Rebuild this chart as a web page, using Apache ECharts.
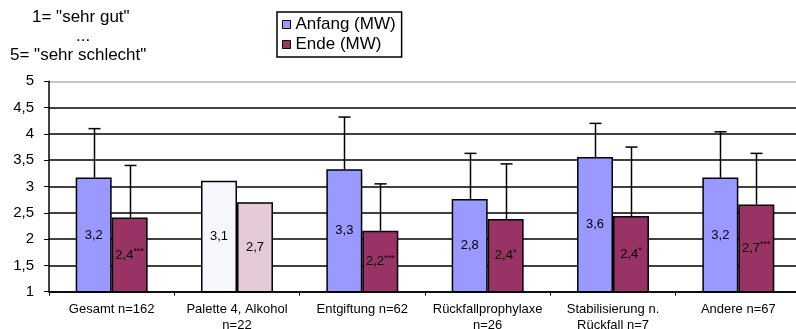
<!DOCTYPE html>
<html><head><meta charset="utf-8">
<script src="https://cdn.jsdelivr.net/npm/echarts@6/dist/echarts.min.js"></script>
<style>html,body{margin:0;padding:0;background:#fff}#c{width:796px;height:329px}</style>
</head><body><div id="c"></div>
<script>
const categories = ['Gesamt n=162', 'Palette 4, Alkohol\nn=22', 'Entgiftung n=62', 'Rückfallprophylaxe\nn=26', 'Stabilisierung n.\nRückfall n=7', 'Andere n=67'];
const anfang = [3.17, 3.11, 3.33, 2.76, 3.56, 3.17];
const ende = [2.41, 2.70, 2.16, 2.38, 2.44, 2.66];
const anfangSD = [0.93, null, 0.99, 0.87, 0.64, 0.87];
const endeSD = [0.99, null, 0.89, 1.05, 1.31, 0.97];
const endeSig = ['***', '', '***', '*', '*', '***'];
const fadedIndex = 1;
const yMin = 1, yMax = 5, yStep = 0.5;
const legendNames = ['Anfang (MW)', 'Ende (MW)'];
const scaleNote = ['1= "sehr gut"', '...', '5= "sehr schlecht"'];

const FONT = '"Liberation Sans", Arial, sans-serif';
const BAR_FRAC = 0.287;
const fmt = v => v.toFixed(1).replace('.', ',');

function errRenderer(sign) {
  return function (params, api) {
    const cat = api.value(0), mean = api.value(1), sd = api.value(2);
    if (sd == null || isNaN(sd)) return;
    const band = api.size([1, 0])[0];
    const off = sign * band * BAR_FRAC / 2;
    const p0 = api.coord([cat, mean]);
    const p1 = api.coord([cat, mean + sd]);
    const x = Math.round(p0[0] + off) + 0.5;
    const st = { stroke: '#000', lineWidth: 1.5 };
    return { type: 'group', children: [
      { type: 'line', shape: { x1: x, y1: p0[1], x2: x, y2: p1[1] }, style: st },
      { type: 'line', shape: { x1: x - 6, y1: p1[1], x2: x + 6, y2: p1[1] }, style: st }
    ]};
  };
}

const nLines = Math.round((yMax - yMin) / yStep) + 1;
const splitColors = [];
for (let i = 0; i < nLines; i++) splitColors.push(i === nLines - 1 ? '#b4b4b4' : '#000');

const chart = echarts.init(document.getElementById('c'), null, { renderer: 'canvas' });
chart.setOption({
  animation: false,
  backgroundColor: '#fff',
  textStyle: { fontFamily: FONT },
  graphic: [
    { type: 'text', left: 32, top: 9, style: { text: scaleNote[0], font: '17px ' + FONT, fill: '#000' } },
    { type: 'text', left: 76, top: 28, style: { text: scaleNote[1], font: '17px ' + FONT, fill: '#000' } },
    { type: 'text', left: 10, top: 47, style: { text: scaleNote[2], font: '17px ' + FONT, fill: '#000' } }
  ],
  legend: {
    data: legendNames,
    orient: 'vertical',
    left: 277, top: 12,
    padding: [3, 6, 3, 5],
    itemGap: 1,
    itemWidth: 8, itemHeight: 8,
    icon: 'rect',
    borderColor: '#000', borderWidth: 1.5,
    textStyle: { fontSize: 17, lineHeight: 19, color: '#000', fontFamily: FONT },
    itemStyle: { borderColor: '#000', borderWidth: 1 }
  },
  grid: { left: 49, top: 81.3, width: 752, bottom: 37.3, outerBoundsMode: 'none', containLabel: false },
  xAxis: {
    type: 'category',
    data: categories,
    axisLine: { lineStyle: { color: '#000', width: 1.5 } },
    axisTick: { show: true, length: 4, lineStyle: { color: '#000', width: 1 } },
    axisLabel: { color: '#000', fontSize: 13, lineHeight: 16, margin: 10, interval: 0, fontFamily: FONT },
    splitLine: { show: false }
  },
  yAxis: {
    type: 'value',
    min: yMin, max: yMax, interval: yStep,
    axisLine: { show: true, lineStyle: { color: '#000', width: 1.5 } },
    axisTick: { show: true, length: 5, lineStyle: { color: '#000', width: 1 } },
    axisLabel: { color: '#000', fontSize: 15, margin: 15, formatter: v => String(v).replace('.', ','), fontFamily: FONT },
    splitLine: { show: true, lineStyle: { color: splitColors, width: 1.5 } }
  },
  series: [
    {
      name: legendNames[0], type: 'bar', barWidth: (BAR_FRAC * 100) + '%', barGap: '0%',
      data: anfang.map((v, i) => ({ value: v, itemStyle: { color: i === fadedIndex ? '#F6F6FD' : '#9999FF' } })),
      itemStyle: { color: '#9999FF', borderColor: '#000', borderWidth: 1.5 },
      label: { show: true, position: 'inside', color: '#000', fontSize: 13, fontFamily: FONT, formatter: p => fmt(p.value) },
      z: 2
    },
    {
      name: legendNames[1], type: 'bar', barWidth: (BAR_FRAC * 100) + '%', barGap: '0%',
      data: ende.map((v, i) => ({ value: v, itemStyle: { color: i === fadedIndex ? '#E5CBD8' : '#993366' } })),
      itemStyle: { color: '#993366', borderColor: '#000', borderWidth: 1.5 },
      label: {
        show: true, position: 'inside', color: '#000', fontFamily: FONT,
        formatter: p => '{v|' + fmt(p.value) + '}' + (endeSig[p.dataIndex] ? '{s|' + endeSig[p.dataIndex] + '}' : ''),
        rich: {
          v: { fontSize: 13, lineHeight: 16, color: '#000', fontFamily: FONT },
          s: { fontSize: 9, lineHeight: 9, verticalAlign: 'top', color: '#000', fontFamily: FONT }
        }
      },
      z: 2
    },
    {
      type: 'custom', renderItem: errRenderer(-1), z: 3, silent: true,
      encode: { x: 0, y: 1 },
      data: anfang.map((v, i) => [i, v, anfangSD[i] == null ? NaN : anfangSD[i]])
    },
    {
      type: 'custom', renderItem: errRenderer(1), z: 3, silent: true,
      encode: { x: 0, y: 1 },
      data: ende.map((v, i) => [i, v, endeSD[i] == null ? NaN : endeSD[i]])
    }
  ]
});
</script></body></html>
